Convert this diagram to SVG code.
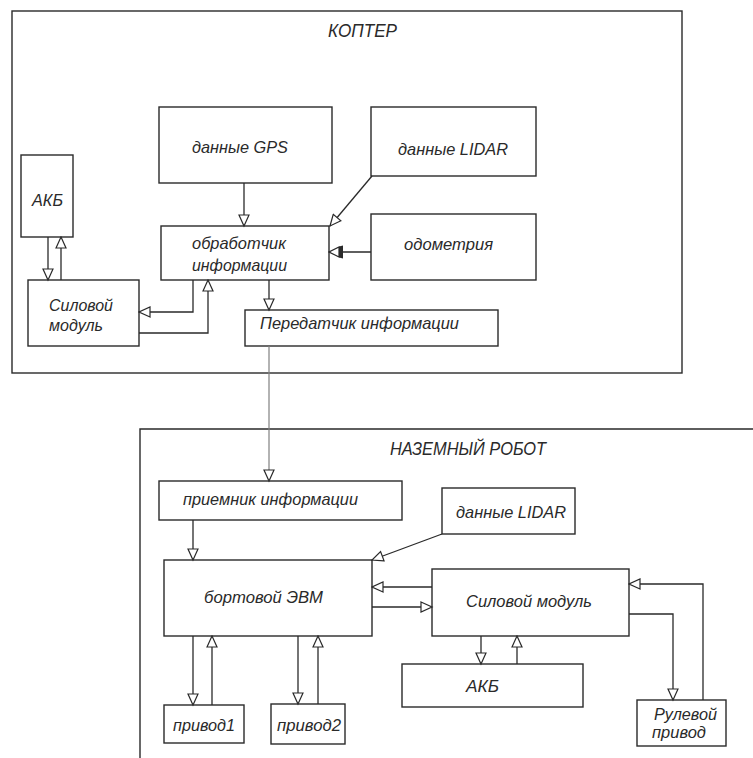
<svg xmlns="http://www.w3.org/2000/svg" width="753" height="758" viewBox="0 0 753 758">
<style>
.box{fill:#fff;stroke:#2a2a2a;stroke-width:1.4}
.frame{fill:none;stroke:#2a2a2a;stroke-width:1.4}
.t{font-family:"Liberation Sans",Arial,sans-serif;font-style:italic;font-size:17px;fill:#2a2a2a}
.h{font-size:18px}
.c{fill:none;stroke:#2a2a2a;stroke-width:1.3}
.g{fill:none;stroke:#808080;stroke-width:1.2}
</style>
<defs>
<marker id="a" markerUnits="userSpaceOnUse" markerWidth="14" markerHeight="12" refX="11" refY="5" orient="auto" viewBox="-1 -1 13 12">
<path d="M0,0 L11,5 L0,10 Z" fill="#fff" stroke="#2a2a2a" stroke-width="1.2"/>
</marker>
<marker id="ab" markerUnits="userSpaceOnUse" markerWidth="16" markerHeight="16" refX="10" refY="7" orient="auto" viewBox="-5 -1 16 16">
<path d="M0,2 L10,7 L0,12 Z" fill="#fff" stroke="#2a2a2a" stroke-width="1.2"/>
<path d="M-4,0.5 L0,1.5 V12.5 L-4,13.5 Z" fill="#2a2a2a"/>
</marker>
</defs>

<g id="copter">
<rect class="frame" x="12" y="11" width="670" height="362"/>
<text class="t h" x="328" y="37" textLength="69" lengthAdjust="spacingAndGlyphs">КОПТЕР</text>
</g>
<g id="gps"><rect class="box" x="159" y="107" width="173" height="76"/><text class="t" x="192" y="153" textLength="96" lengthAdjust="spacingAndGlyphs">данные GPS</text></g>
<g id="lidar1"><rect class="box" x="371" y="107" width="165" height="69"/><text class="t" x="398" y="155" textLength="110" lengthAdjust="spacingAndGlyphs">данные LIDAR</text></g>
<g id="akb1"><rect class="box" x="21" y="155" width="52" height="82"/><text class="t" x="32" y="206" textLength="31" lengthAdjust="spacingAndGlyphs">АКБ</text></g>
<g id="proc"><rect class="box" x="161" y="226" width="168" height="54"/><text class="t" x="192" y="249" textLength="94" lengthAdjust="spacingAndGlyphs">обработчик</text><text class="t" x="192" y="271" textLength="95" lengthAdjust="spacingAndGlyphs">информации</text></g>
<g id="odo"><rect class="box" x="371" y="214" width="165" height="66"/><text class="t" x="404" y="250" textLength="89" lengthAdjust="spacingAndGlyphs">одометрия</text></g>
<g id="power1"><rect class="box" x="28" y="280" width="111" height="66"/><text class="t" x="49" y="311" textLength="64" lengthAdjust="spacingAndGlyphs">Силовой</text><text class="t" x="49" y="331" textLength="54" lengthAdjust="spacingAndGlyphs">модуль</text></g>
<g id="tx"><rect class="box" x="245" y="310" width="253" height="36"/><text class="t" x="260" y="329" textLength="199" lengthAdjust="spacingAndGlyphs">Передатчик информации</text></g>

<g id="robot">
<path class="frame" d="M760,429 H140 V765"/>
<text class="t h" x="390" y="455" textLength="156" lengthAdjust="spacingAndGlyphs">НАЗЕМНЫЙ РОБОТ</text>
</g>
<g id="rx"><rect class="box" x="159" y="481" width="243" height="39"/><text class="t" x="183" y="505" textLength="175" lengthAdjust="spacingAndGlyphs">приемник информации</text></g>
<g id="lidar2"><rect class="box" x="442" y="488" width="133" height="46"/><text class="t" x="456" y="518" textLength="110" lengthAdjust="spacingAndGlyphs">данные LIDAR</text></g>
<g id="evm"><rect class="box" x="164" y="560" width="208" height="76"/><text class="t" x="204" y="603" textLength="119" lengthAdjust="spacingAndGlyphs">бортовой ЭВМ</text></g>
<g id="power2"><rect class="box" x="432" y="569" width="197" height="67"/><text class="t" x="466" y="607" textLength="126" lengthAdjust="spacingAndGlyphs">Силовой модуль</text></g>
<g id="akb2"><rect class="box" x="402" y="664" width="181" height="43"/><text class="t" x="466" y="692" textLength="33" lengthAdjust="spacingAndGlyphs">АКБ</text></g>
<g id="steer"><rect class="box" x="637" y="700" width="89" height="46"/><text class="t" x="654" y="720" textLength="63" lengthAdjust="spacingAndGlyphs">Рулевой</text><text class="t" x="652" y="738" textLength="54" lengthAdjust="spacingAndGlyphs">привод</text></g>
<g id="drive1"><rect class="box" x="164" y="705" width="80" height="38"/><text class="t" x="173" y="731" textLength="62" lengthAdjust="spacingAndGlyphs">привод1</text></g>
<g id="drive2"><rect class="box" x="271" y="704" width="74" height="40"/><text class="t" x="277" y="731" textLength="64" lengthAdjust="spacingAndGlyphs">привод2</text></g>

<g id="connectors">
<path class="c" d="M244,183 V226" marker-end="url(#a)"/>
<path class="c" d="M372,176 L330,226" marker-end="url(#a)"/>
<path class="c" d="M371,252 H329" marker-end="url(#ab)"/>
<path class="c" d="M48,237 V280" marker-end="url(#a)"/>
<path class="c" d="M61,280 V237" marker-end="url(#a)"/>
<path class="c" d="M193,280 V312 H139" marker-end="url(#a)"/>
<path class="c" d="M139,333 H208 V280" marker-end="url(#a)"/>
<path class="c" d="M269,280 V310" marker-end="url(#a)"/>
<path class="g" d="M269,346 V481" marker-end="url(#a)"/>
<path class="c" d="M193,520 V560" marker-end="url(#a)"/>
<path class="c" d="M442,534 L372,560" marker-end="url(#a)"/>
<path class="c" d="M432,587 H372" marker-end="url(#a)"/>
<path class="c" d="M372,607 H432" marker-end="url(#a)"/>
<path class="c" d="M481,636 V664" marker-end="url(#a)"/>
<path class="c" d="M517,664 V636" marker-end="url(#a)"/>
<path class="c" d="M629,614 H673 V700" marker-end="url(#a)"/>
<path class="c" d="M703,700 V584 H629" marker-end="url(#a)"/>
<path class="c" d="M193,636 V705" marker-end="url(#a)"/>
<path class="c" d="M212,705 V636" marker-end="url(#a)"/>
<path class="c" d="M298,636 V704" marker-end="url(#a)"/>
<path class="c" d="M318,704 V636" marker-end="url(#a)"/>
</g>
</svg>
